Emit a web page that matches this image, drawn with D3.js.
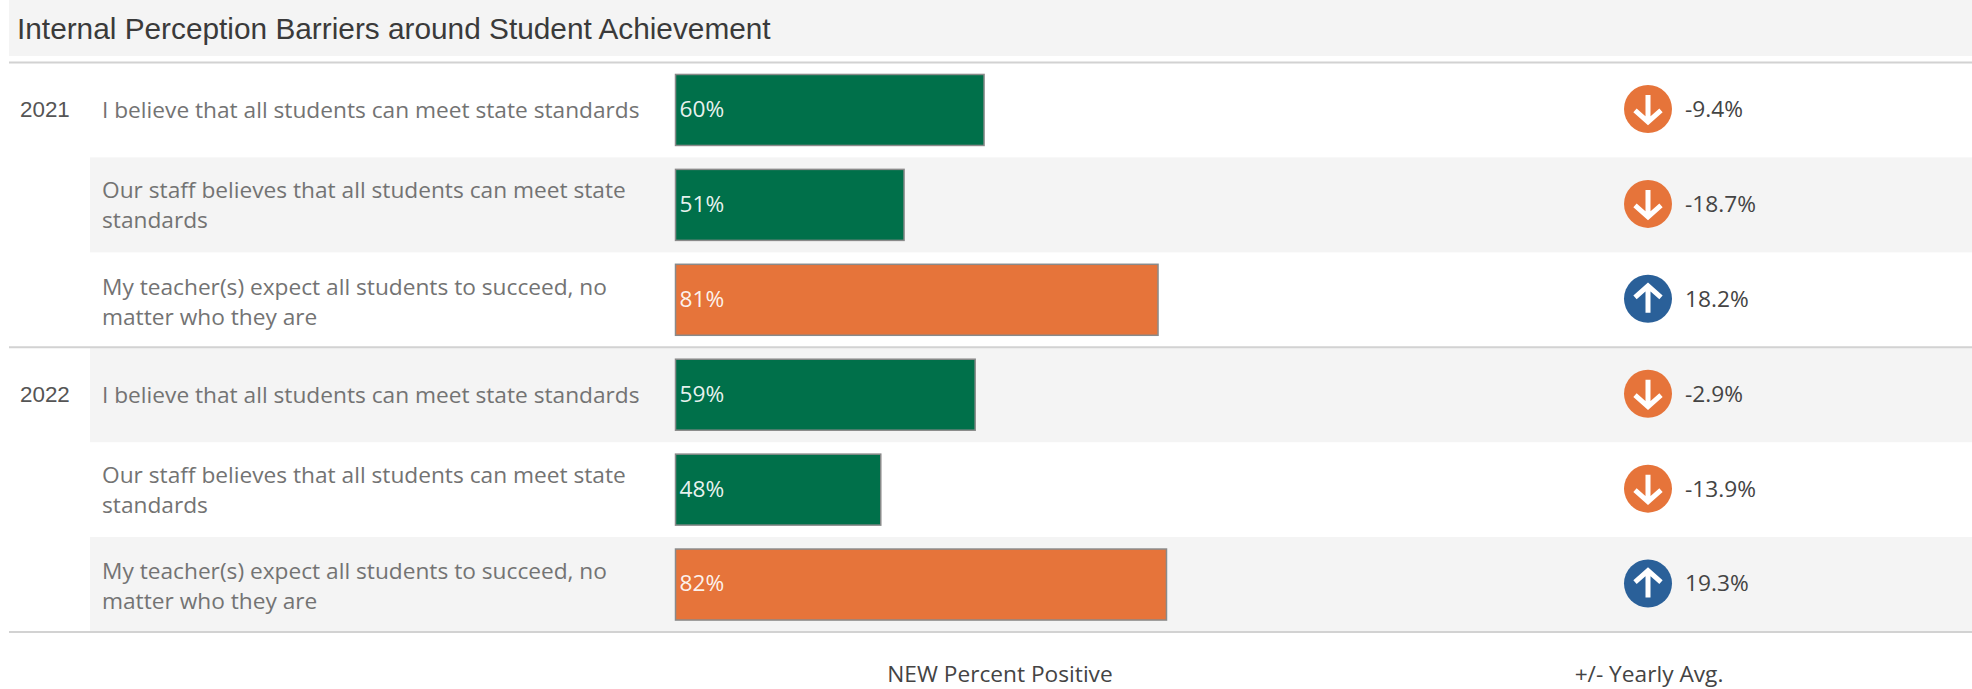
<!DOCTYPE html>
<html><head><meta charset="utf-8">
<style>html,body{margin:0;padding:0;background:#fff;overflow:hidden}svg{display:block}</style>
<script src="https://cdnjs.cloudflare.com/ajax/libs/d3/7.8.5/d3.min.js"></script>
</head><body><div id="chart"></div>
<script>
const chartTitle = "Internal Perception Barriers around Student Achievement";
const years = ["2021","2022"];
const questionLines = [
  ["I believe that all students can meet state standards"],
  ["Our staff believes that all students can meet state","standards"],
  ["My teacher(s) expect all students to succeed, no","matter who they are"]
];
const percentPositive = [60.45, 51, 81, 59.4, 48.25, 82];
const yearlyAvgDiff = [-9.4, -18.7, 18.2, -2.9, -13.9, 19.3];
const highlight = [false, false, true, false, false, true];
const axisTitles = ["NEW Percent Positive", "+/- Yearly Avg."];

const W = 1972, H = 689;
const GREEN = "#00704a", ORANGE = "#e6743a", BLUE = "#2a6099", BAND = "#f4f4f4", RULE = "#d2d2d2";
const LABEL = "'Open Sans','Noto Sans',sans-serif";

const svg = d3.select("#chart").append("svg").attr("width", W).attr("height", H);
const rowIdx = d3.range(percentPositive.length);
const y = d3.scaleBand().domain(rowIdx).range([62.5, 632]);
const x = d3.scaleLinear().domain([24, 82]).range([675.5, 1166.5]);

// title band
svg.append("rect").attr("x", 9).attr("y", 0).attr("width", W - 9).attr("height", 56).attr("fill", BAND);
svg.append("text").attr("x", 17).attr("y", 29).attr("dy", "0.35em")
  .attr("font-family", "'Liberation Sans',Arial,sans-serif").attr("font-size", 29.8).attr("fill", "#3a3a3a").text(chartTitle);

// alternating row bands
svg.selectAll("rect.band").data(rowIdx.filter(i => i % 2 === 1)).join("rect")
  .attr("class", "band").attr("x", 90).attr("y", i => y(i)).attr("width", W - 90).attr("height", y.bandwidth()).attr("fill", BAND);

// horizontal rules
svg.selectAll("line.rule").data([0, 3, 6]).join("line").attr("class", "rule")
  .attr("x1", 9).attr("x2", W)
  .attr("y1", i => i === 6 ? y.range()[1] : y(i)).attr("y2", i => i === 6 ? y.range()[1] : y(i))
  .attr("stroke", RULE).attr("stroke-width", 2);

// year labels
svg.selectAll("text.year").data(years).join("text").attr("class", "year")
  .attr("x", 20).attr("y", (d, i) => y(i * 3) + y.bandwidth() / 2 - 1).attr("dy", "0.35em")
  .attr("font-family", "'Liberation Sans',Arial,sans-serif").attr("font-size", 22.4).attr("fill", "#555").text(d => d);

// question labels
const qs = svg.selectAll("text.q").data(rowIdx).join("text").attr("class", "q")
  .attr("font-family", LABEL).attr("font-size", 22.7).attr("fill", "#737373");
qs.each(function(i) {
  const lines = questionLines[i % 3];
  const cy = y(i) + y.bandwidth() / 2 + (lines.length > 1 ? (i % 3 === 2 ? 2 : 0.5) : 0.5);
  d3.select(this).selectAll("tspan").data(lines).join("tspan")
    .attr("x", 102).attr("y", (d, k) => cy + (k - (lines.length - 1) / 2) * 30).attr("dy", "0.35em").text(d => d);
});

// bars
const barH = 71;
svg.selectAll("rect.bar").data(rowIdx).join("rect").attr("class", "bar")
  .attr("x", x(24)).attr("y", i => y(i) + (y.bandwidth() - barH) / 2)
  .attr("width", i => x(percentPositive[i]) - x(24)).attr("height", barH)
  .attr("fill", i => highlight[i] ? ORANGE : GREEN)
  .attr("stroke", "#8a8a8a").attr("stroke-width", 1.5);
svg.selectAll("text.val").data(rowIdx).join("text").attr("class", "val")
  .attr("x", x(24) + 4).attr("y", i => y(i) + y.bandwidth() / 2 - 1).attr("dy", "0.35em")
  .attr("font-family", LABEL).attr("font-size", 22.7).attr("fill", "#fff")
  .attr("fill-opacity", 0.92)
  .text(i => Math.round(percentPositive[i]) + "%");

// arrows
const icon = svg.selectAll("g.icon").data(rowIdx).join("g").attr("class", "icon")
  .attr("transform", i => `translate(1648,${y(i) + y.bandwidth() / 2 - 1})`);
icon.append("circle").attr("r", 24).attr("fill", i => yearlyAvgDiff[i] < 0 ? ORANGE : BLUE);
icon.append("path").attr("d", "M0,-14V12M-13,1.5L0,13L13,1.5")
  .attr("transform", i => yearlyAvgDiff[i] < 0 ? null : "rotate(180)")
  .attr("fill", "none").attr("stroke", "#fff").attr("stroke-width", 5);
svg.selectAll("text.diff").data(rowIdx).join("text").attr("class", "diff")
  .attr("x", 1685).attr("y", i => y(i) + y.bandwidth() / 2 - 1).attr("dy", "0.35em")
  .attr("font-family", LABEL).attr("font-size", 22.7).attr("fill", "#444")
  .text(i => yearlyAvgDiff[i].toFixed(1) + "%");

// column titles
svg.selectAll("text.at").data(axisTitles).join("text").attr("class", "at")
  .attr("x", (d, i) => i === 0 ? 1000 : 1649).attr("y", 674).attr("dy", "0.35em").attr("text-anchor", "middle")
  .attr("font-family", LABEL).attr("font-size", 22.7).attr("font-weight", 500).attr("fill", "#444").text(d => d);
</script></body></html>
